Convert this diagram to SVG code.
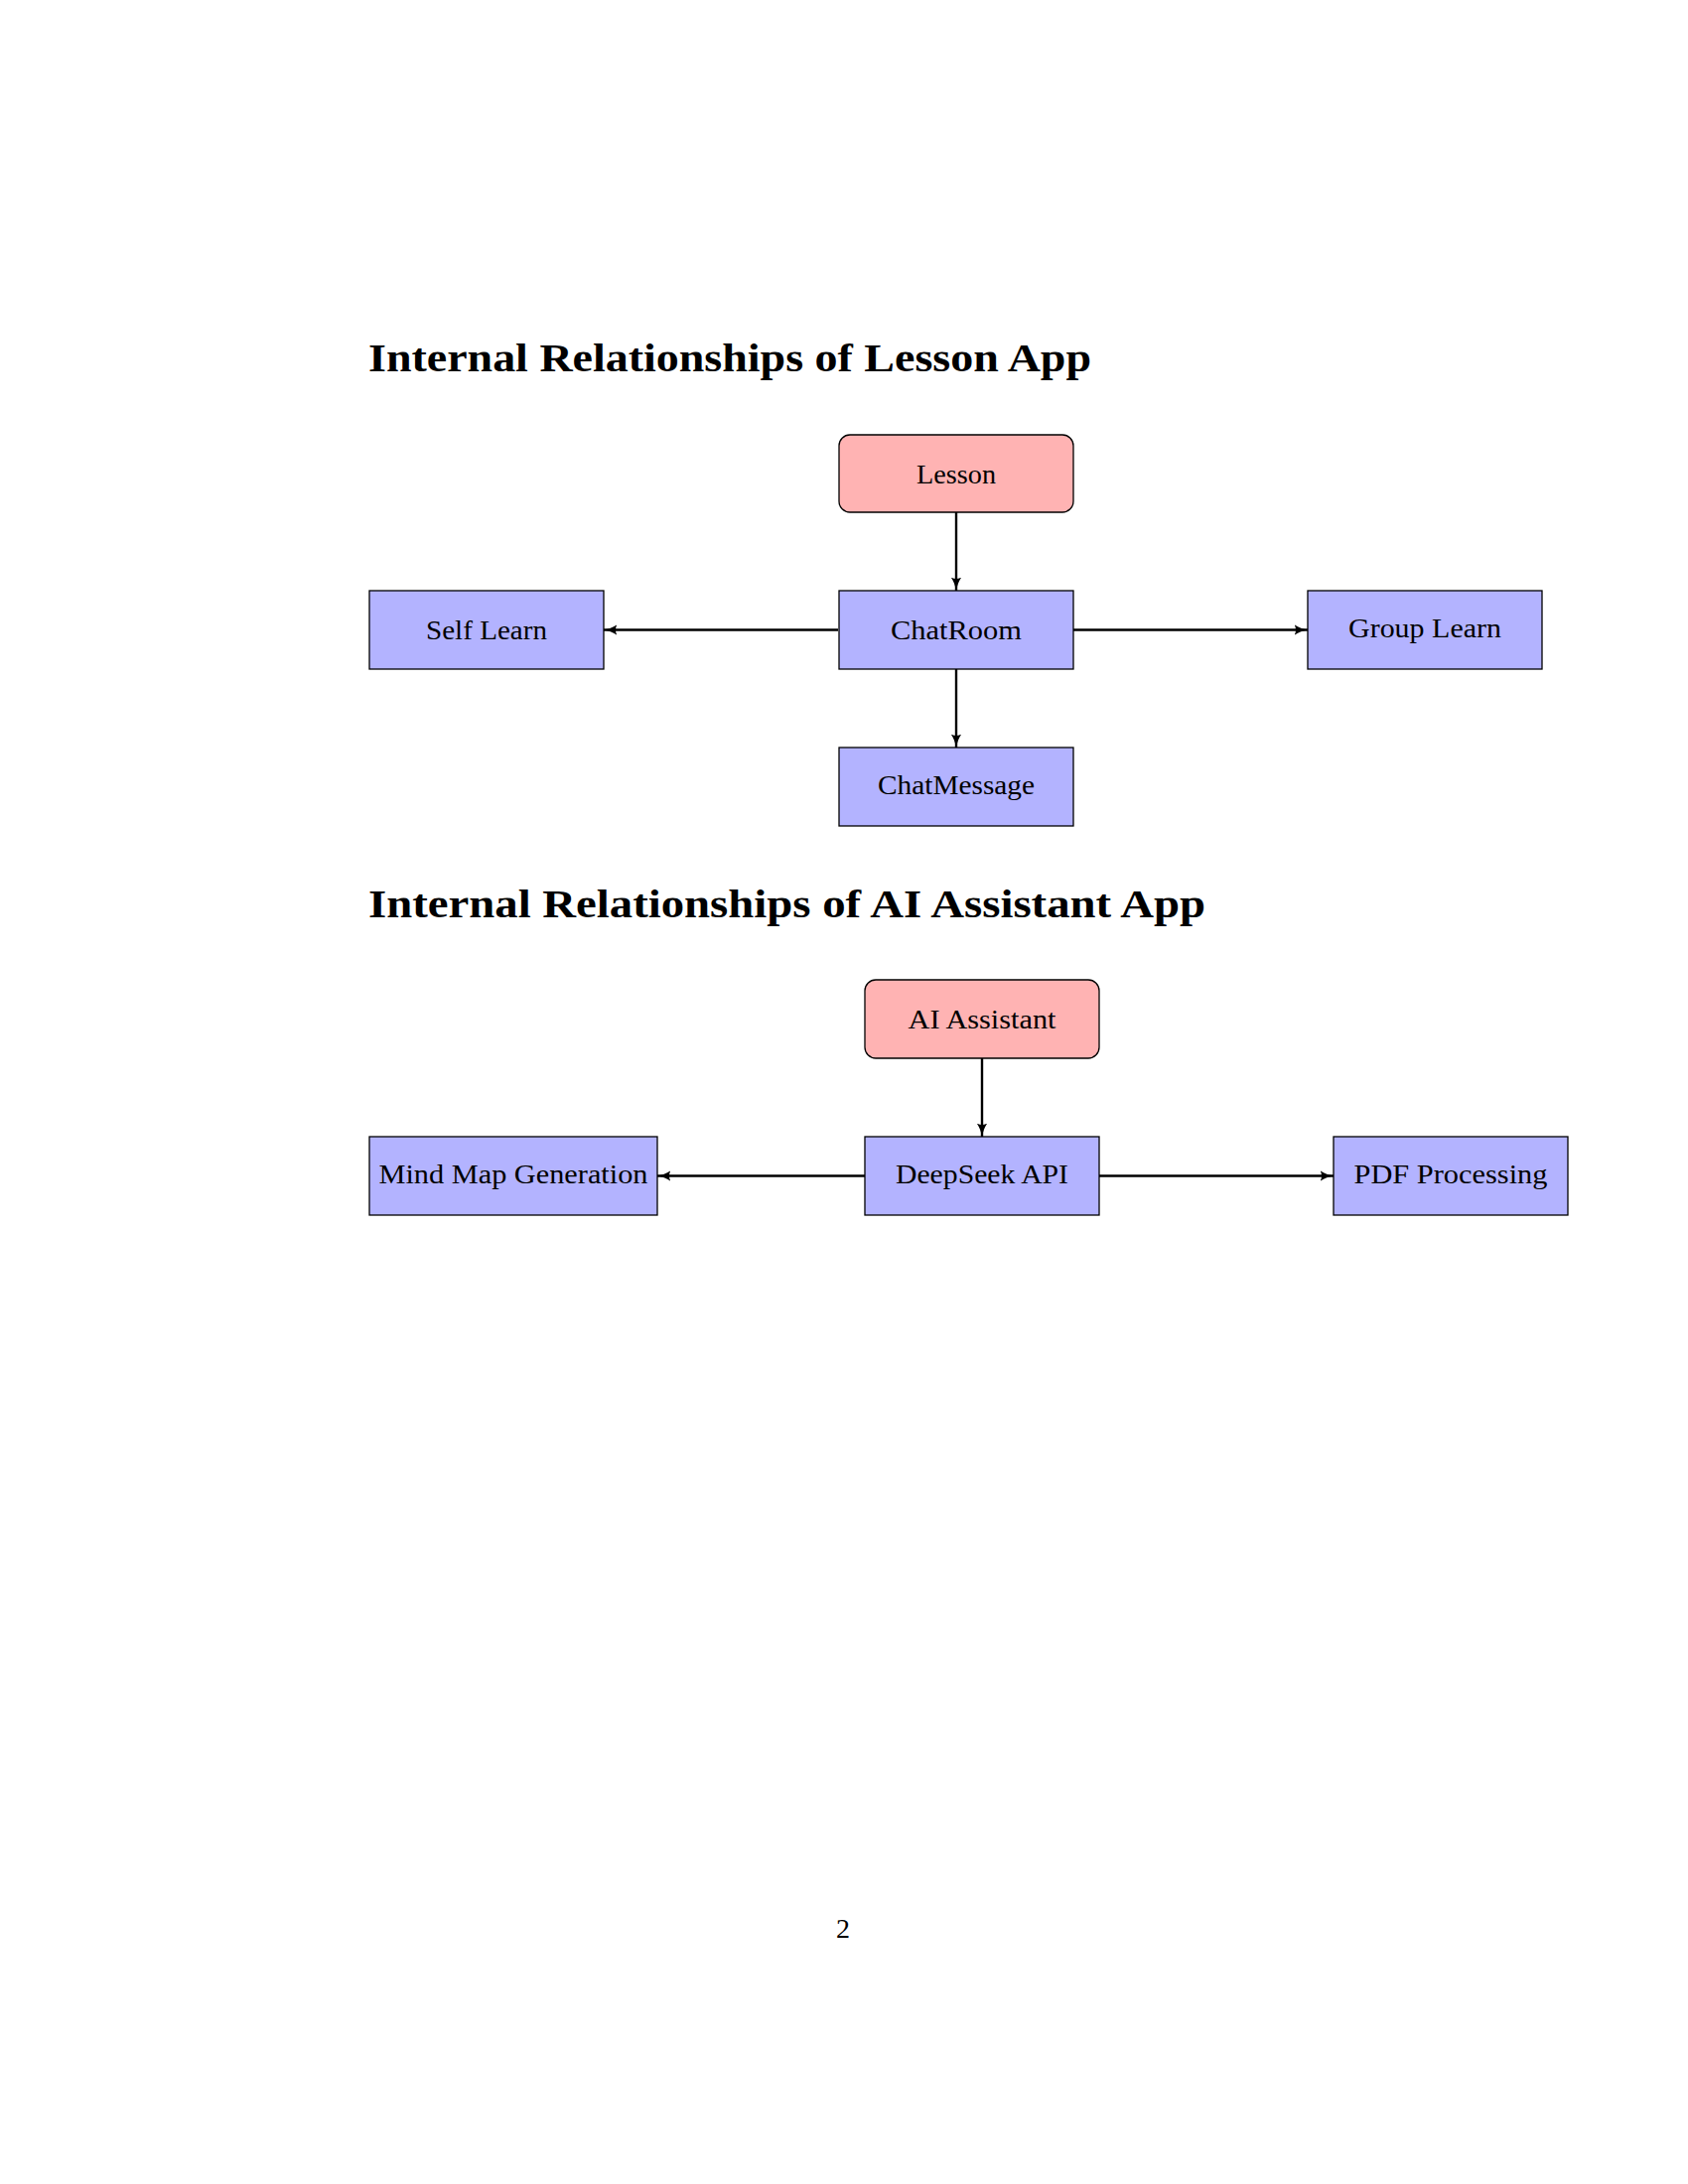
<svg xmlns="http://www.w3.org/2000/svg" width="1700" height="2200" viewBox="0 0 1700 2200">
<defs>
<style>
.title{font-family:"Liberation Serif","Times New Roman",serif;font-weight:bold;font-size:40px;fill:#000}
.lbl{font-family:"Liberation Serif","Times New Roman",serif;font-size:28px;fill:#000;text-anchor:middle}
.root{fill:#FFB3B3;stroke:#000;stroke-width:1.3}
.box{fill:#B3B3FF;stroke:#000;stroke-width:1.3}
.edge{fill:none;stroke:#000;stroke-width:2.4}
</style>
<marker id="arr" viewBox="0 0 12 10" refX="11.5" refY="5" markerWidth="14" markerHeight="12" orient="auto" markerUnits="userSpaceOnUse">
<path d="M0,0.5 Q5,4 12,5 Q5,6 0,9.5 Q2.5,5 0,0.5 Z" fill="#000"/>
</marker>
</defs>
<rect width="1700" height="2200" fill="#fff"/>
<text class="title" x="371" y="374" textLength="728" lengthAdjust="spacingAndGlyphs">Internal Relationships of Lesson App</text>
<text class="title" x="371" y="924" textLength="843" lengthAdjust="spacingAndGlyphs">Internal Relationships of AI Assistant App</text>
<g id="connectors">
<path class="edge" d="M963,516 L963,595" marker-end="url(#arr)"/>
<path class="edge" d="M844,634.5 L608,634.5" marker-end="url(#arr)"/>
<path class="edge" d="M1081,634.5 L1317,634.5" marker-end="url(#arr)"/>
<path class="edge" d="M963,674 L963,753" marker-end="url(#arr)"/>
<path class="edge" d="M989,1066 L989,1145" marker-end="url(#arr)"/>
<path class="edge" d="M871,1184.5 L662,1184.5" marker-end="url(#arr)"/>
<path class="edge" d="M1107,1184.5 L1343,1184.5" marker-end="url(#arr)"/>
</g>
<g id="lesson"><rect class="root" x="845" y="438" width="236" height="78" rx="11"/><text class="lbl" x="963" y="487" textLength="80" lengthAdjust="spacingAndGlyphs">Lesson</text></g>
<g id="chatroom"><rect class="box" x="845" y="595" width="236" height="79"/><text class="lbl" x="963" y="644" textLength="132" lengthAdjust="spacingAndGlyphs">ChatRoom</text></g>
<g id="selflearn"><rect class="box" x="372" y="595" width="236" height="79"/><text class="lbl" x="490" y="644" textLength="122" lengthAdjust="spacingAndGlyphs">Self Learn</text></g>
<g id="grouplearn"><rect class="box" x="1317" y="595" width="236" height="79"/><text class="lbl" x="1435" y="641.5" textLength="154" lengthAdjust="spacingAndGlyphs">Group Learn</text></g>
<g id="chatmessage"><rect class="box" x="845" y="753" width="236" height="79"/><text class="lbl" x="963" y="799.5" textLength="158" lengthAdjust="spacingAndGlyphs">ChatMessage</text></g>
<g id="aiassistant"><rect class="root" x="871" y="987" width="236" height="79" rx="11"/><text class="lbl" x="989" y="1036" textLength="149" lengthAdjust="spacingAndGlyphs">AI Assistant</text></g>
<g id="deepseek"><rect class="box" x="871" y="1145" width="236" height="79"/><text class="lbl" x="989" y="1191.5" textLength="174" lengthAdjust="spacingAndGlyphs">DeepSeek API</text></g>
<g id="mindmap"><rect class="box" x="372" y="1145" width="290" height="79"/><text class="lbl" x="517" y="1191.5" textLength="271" lengthAdjust="spacingAndGlyphs">Mind Map Generation</text></g>
<g id="pdf"><rect class="box" x="1343" y="1145" width="236" height="79"/><text class="lbl" x="1461" y="1191.5" textLength="195" lengthAdjust="spacingAndGlyphs">PDF Processing</text></g>
<text class="lbl" x="849" y="1952">2</text>
</svg>
